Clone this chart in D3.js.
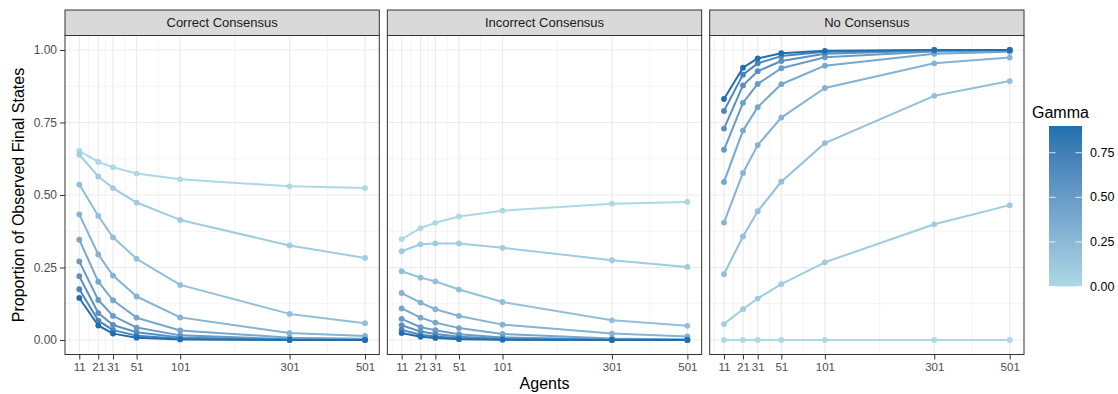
<!DOCTYPE html>
<html>
<head>
<meta charset="utf-8">
<script src="https://cdn.jsdelivr.net/npm/d3@7"></script>
<style>
  html, body { margin: 0; padding: 0; background: #ffffff; }
  svg { display: block; font-family: "Liberation Sans", Arial, Helvetica, sans-serif; }
</style>
</head>
<body>
<svg id="chart" width="1118" height="394"></svg>
<script>
// ---------------- data ----------------
const facets = ["Correct Consensus", "Incorrect Consensus", "No Consensus"];
const agents = [11, 21, 31, 51, 101, 301, 501];
const gammas = [0, 0.1, 0.2, 0.3, 0.4, 0.5, 0.6, 0.7, 0.9];
const yTicks = [0, 0.25, 0.5, 0.75, 1];
const legendTicks = [0, 0.25, 0.5, 0.75];

// values per gamma (rows) at each agent count (columns)
const correctConsensus = [
  [0.652, 0.614, 0.596, 0.574, 0.554, 0.530, 0.524],
  [0.639, 0.564, 0.524, 0.474, 0.414, 0.326, 0.283],
  [0.536, 0.428, 0.354, 0.280, 0.190, 0.090, 0.058],
  [0.433, 0.295, 0.222, 0.150, 0.078, 0.024, 0.014],
  [0.346, 0.201, 0.137, 0.077, 0.033, 0.008, 0.004],
  [0.271, 0.138, 0.083, 0.043, 0.016, 0.003, 0.001],
  [0.220, 0.093, 0.052, 0.027, 0.009, 0.001, 0.000],
  [0.175, 0.067, 0.034, 0.015, 0.004, 0.000, 0.000],
  [0.145, 0.050, 0.022, 0.008, 0.002, 0.000, 0.000]
];
const incorrectConsensus = [
  [0.348, 0.386, 0.404, 0.426, 0.446, 0.470, 0.476],
  [0.306, 0.330, 0.333, 0.333, 0.318, 0.275, 0.252],
  [0.237, 0.215, 0.202, 0.174, 0.131, 0.068, 0.049],
  [0.162, 0.129, 0.106, 0.083, 0.053, 0.022, 0.012],
  [0.109, 0.077, 0.060, 0.041, 0.021, 0.005, 0.002],
  [0.073, 0.044, 0.034, 0.020, 0.009, 0.002, 0.001],
  [0.051, 0.029, 0.021, 0.011, 0.004, 0.001, 0.000],
  [0.035, 0.018, 0.012, 0.006, 0.002, 0.000, 0.000],
  [0.024, 0.011, 0.007, 0.003, 0.001, 0.000, 0.000]
];
const noConsensus = [
  [0.000, 0.000, 0.000, 0.000, 0.000, 0.000, 0.000],
  [0.055, 0.106, 0.143, 0.193, 0.268, 0.399, 0.465],
  [0.227, 0.357, 0.444, 0.546, 0.679, 0.842, 0.893],
  [0.405, 0.576, 0.672, 0.767, 0.869, 0.954, 0.974],
  [0.545, 0.722, 0.803, 0.882, 0.946, 0.987, 0.994],
  [0.656, 0.818, 0.883, 0.937, 0.975, 0.995, 0.998],
  [0.729, 0.878, 0.927, 0.962, 0.987, 0.998, 1.000],
  [0.790, 0.915, 0.954, 0.979, 0.994, 1.000, 1.000],
  [0.831, 0.939, 0.971, 0.989, 0.997, 1.000, 1.000]
];
const facetValues = [correctConsensus, incorrectConsensus, noConsensus];

// ---------------- layout ----------------
const svg = d3.select("#chart");
const panelW = 314.3, panelGap = 8.05, panelLeft0 = 65;
const panelTop = 35.5, panelBottom = 354.5;
const stripTop = 10;
const expand = panelW * 0.05 / 1.1;

const y = d3.scaleLinear().domain([0, 1]).range([340, 50]);

const colorLow = "#add8e6", colorHigh = "#1f6fae";
const color = d3.scaleLinear()
  .domain(d3.extent(gammas))
  .range([colorLow, colorHigh])
  .interpolate(d3.interpolateLab);

// minor breaks (ggplot style: midpoints in transformed space)
function minorBreaks(breaks, tf, inv) {
  const t = breaks.map(tf);
  const out = [];
  out.push(t[0] - (t[1] - t[0]) / 2);
  for (let i = 0; i < t.length - 1; i++) out.push((t[i] + t[i + 1]) / 2);
  out.push(t[t.length - 1] + (t[t.length - 1] - t[t.length - 2]) / 2);
  return out.map(inv);
}

const yMinor = minorBreaks(yTicks, d => d, d => d).filter(v => v > -0.05 && v < 1.05);

facets.forEach((name, fi) => {
  const left = panelLeft0 + fi * (panelW + panelGap);
  const x = d3.scaleSqrt().domain([11, 501]).range([left + expand, left + panelW - expand]);
  const xMinor = minorBreaks(agents, Math.sqrt, v => v * v)
    .filter(v => x(v) >= left && x(v) <= left + panelW);

  const g = svg.append("g");
  g.append("rect").attr("x", left).attr("y", panelTop)
    .attr("width", panelW).attr("height", panelBottom - panelTop).attr("fill", "#ffffff");

  // minor grid
  g.selectAll(".ymin").data(yMinor).enter().append("line")
    .attr("x1", left).attr("x2", left + panelW)
    .attr("y1", d => y(d)).attr("y2", d => y(d))
    .attr("stroke", "#ebebeb").attr("stroke-width", 0.6);
  g.selectAll(".xmin").data(xMinor).enter().append("line")
    .attr("x1", d => x(d)).attr("x2", d => x(d))
    .attr("y1", panelTop).attr("y2", panelBottom)
    .attr("stroke", "#ebebeb").attr("stroke-width", 0.6);
  // major grid
  g.selectAll(".ymaj").data(yTicks).enter().append("line")
    .attr("x1", left).attr("x2", left + panelW)
    .attr("y1", d => y(d)).attr("y2", d => y(d))
    .attr("stroke", "#ebebeb").attr("stroke-width", 1.2);
  g.selectAll(".xmaj").data(agents).enter().append("line")
    .attr("x1", d => x(d)).attr("x2", d => x(d))
    .attr("y1", panelTop).attr("y2", panelBottom)
    .attr("stroke", "#ebebeb").attr("stroke-width", 1.2);

  // lines
  const vals = facetValues[fi];
  const line = d3.line().x((d, i) => x(agents[i])).y(d => y(d));
  gammas.forEach((gm, gi) => {
    g.append("path").datum(vals[gi])
      .attr("d", line).attr("fill", "none")
      .attr("stroke", color(gm)).attr("stroke-width", 2)
      .attr("stroke-linejoin", "round");
  });
  gammas.forEach((gm, gi) => {
    g.selectAll(null).data(vals[gi]).enter().append("circle")
      .attr("cx", (d, i) => x(agents[i])).attr("cy", d => y(d))
      .attr("r", 2.9).attr("fill", color(gm));
  });

  // panel border
  g.append("rect").attr("x", left).attr("y", panelTop)
    .attr("width", panelW).attr("height", panelBottom - panelTop)
    .attr("fill", "none").attr("stroke", "#333333").attr("stroke-width", 1);

  // strip
  g.append("rect").attr("x", left).attr("y", stripTop)
    .attr("width", panelW).attr("height", panelTop - stripTop)
    .attr("fill", "#d9d9d9").attr("stroke", "#333333").attr("stroke-width", 1);
  g.append("text").attr("x", left + panelW / 2).attr("y", (stripTop + panelTop) / 2)
    .attr("text-anchor", "middle").attr("dominant-baseline", "central")
    .attr("font-size", 13).attr("fill", "#1a1a1a").text(name);

  // x axis
  const xAxis = d3.axisBottom(x).tickValues(agents).tickSize(5).tickPadding(3)
    .tickFormat(d3.format("d"));
  const ax = g.append("g").attr("transform", `translate(0,${panelBottom})`).call(xAxis);
  ax.select(".domain").remove();
  ax.selectAll(".tick line").attr("stroke", "#333333").attr("stroke-width", 1);
  ax.selectAll(".tick text").attr("fill", "#4d4d4d").attr("font-size", 11.5)
    .attr("font-family", "Liberation Sans, Arial, sans-serif");

  if (fi === 0) {
    const yAxis = d3.axisLeft(y).tickValues(yTicks).tickSize(5).tickPadding(3)
      .tickFormat(d3.format(".2f"));
    const ay = g.append("g").attr("transform", `translate(${left},0)`).call(yAxis);
    ay.select(".domain").remove();
    ay.selectAll(".tick line").attr("stroke", "#333333").attr("stroke-width", 1);
    ay.selectAll(".tick text").attr("fill", "#4d4d4d").attr("font-size", 12)
      .attr("font-family", "Liberation Sans, Arial, sans-serif");
  }
});

// axis titles
const totalLeft = panelLeft0, totalRight = panelLeft0 + 3 * panelW + 2 * panelGap;
svg.append("text").attr("x", (totalLeft + totalRight) / 2).attr("y", 383)
  .attr("text-anchor", "middle").attr("dominant-baseline", "central")
  .attr("font-size", 16).attr("fill", "#000").text("Agents");
svg.append("text")
  .attr("transform", `translate(18,${(panelTop + panelBottom) / 2}) rotate(-90)`)
  .attr("text-anchor", "middle").attr("dominant-baseline", "central")
  .attr("font-size", 16).attr("fill", "#000").text("Proportion of Observed Final States");

// ---------------- legend ----------------
const barX = 1049, barW = 33, barTop = 126, barBottom = 286.5;
const lg = d3.scaleLinear().domain(d3.extent(gammas)).range([barBottom, barTop]);
const defs = svg.append("defs");
const grad = defs.append("linearGradient").attr("id", "gammaGrad")
  .attr("x1", 0).attr("y1", 1).attr("x2", 0).attr("y2", 0);
d3.range(0, 1.0001, 0.05).forEach(t => {
  const v = lg.domain()[0] + t * (lg.domain()[1] - lg.domain()[0]);
  grad.append("stop").attr("offset", t).attr("stop-color", color(v));
});
svg.append("rect").attr("x", barX).attr("y", barTop).attr("width", barW)
  .attr("height", barBottom - barTop).attr("fill", "url(#gammaGrad)");
legendTicks.forEach(t => {
  svg.append("line").attr("x1", barX).attr("x2", barX + barW / 5)
    .attr("y1", lg(t)).attr("y2", lg(t)).attr("stroke", "#ffffff").attr("stroke-width", 1).attr("opacity", 0.8);
  svg.append("line").attr("x1", barX + barW - barW / 5).attr("x2", barX + barW)
    .attr("y1", lg(t)).attr("y2", lg(t)).attr("stroke", "#ffffff").attr("stroke-width", 1).attr("opacity", 0.8);
  svg.append("text").attr("x", barX + barW + 8).attr("y", lg(t))
    .attr("dominant-baseline", "central").attr("font-size", 12.5).attr("fill", "#000")
    .text(d3.format(".2f")(t));
});
svg.append("text").attr("x", 1032).attr("y", 112)
  .attr("dominant-baseline", "central").attr("font-size", 16).attr("fill", "#000").text("Gamma");
</script>
</body>
</html>
